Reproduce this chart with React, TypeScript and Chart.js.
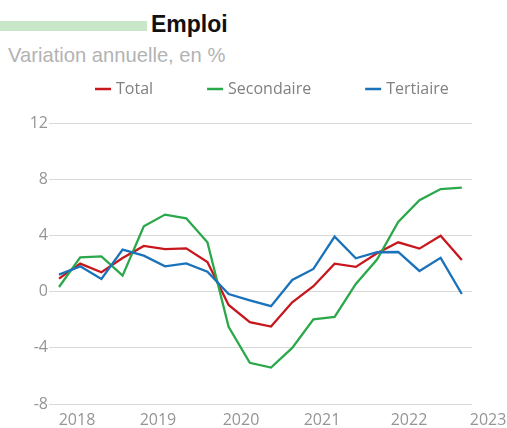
import React, { useEffect, useRef } from "react";
import { Chart, registerables } from "chart.js";

Chart.register(...registerables);

// ---- Data ----
const quarters = [
  "2017T4", "2018T1", "2018T2", "2018T3", "2018T4",
  "2019T1", "2019T2", "2019T3", "2019T4",
  "2020T1", "2020T2", "2020T3", "2020T4",
  "2021T1", "2021T2", "2021T3", "2021T4",
  "2022T1", "2022T2", "2022T3",
];
const total = [
  0.92, 1.99, 1.38, 2.39, 3.25, 3.03, 3.08, 2.11, -0.95, -2.18,
  -2.49, -0.76, 0.38, 1.99, 1.76, 2.73, 3.51, 3.06, 3.98, 2.25,
];
const secondaire = [
  0.33, 2.44, 2.51, 1.14, 4.65, 5.48, 5.22, 3.51, -2.51, -5.07,
  -5.41, -4.01, -1.97, -1.8, 0.55, 2.28, 4.95, 6.5, 7.3, 7.4,
];
const tertiaire = [
  1.21, 1.8, 0.9, 2.99, 2.56, 1.8, 2.01, 1.42, -0.17, -0.62,
  -1.04, 0.83, 1.61, 3.91, 2.37, 2.8, 2.82, 1.47, 2.4, -0.17,
];
const seriesLabels = ["Total", "Secondaire", "Tertiaire"];
const seriesColors = ["#c8161d", "#2ba84a", "#1a72bb"];
const yTicks = [-8, -4, 0, 4, 8, 12];
const yearLabels = ["2018", "2019", "2020", "2021", "2022", "2023"];
const yearLabelPositions = [2017.962, 2018.917, 2019.896, 2020.851, 2021.877, 2022.809];

function quarterToYear(q: string): number {
  const y = parseInt(q.slice(0, 4), 10);
  const n = parseInt(q.slice(5), 10);
  return y + (n - 1) * 0.25;
}

const legendPlugin = {
  id: "customLegend",
  afterDraw(chart: any) {
    const ctx = chart.ctx;
    ctx.save();
    ctx.font = "16px 'Open Sans'";
    ctx.textBaseline = "middle";
    ctx.textAlign = "left";
    let x = 95;
    const y = 89;
    chart.data.datasets.forEach((ds: any) => {
      ctx.strokeStyle = ds.borderColor;
      ctx.lineWidth = 2.5;
      ctx.beginPath();
      ctx.moveTo(x, y);
      ctx.lineTo(x + 16, y);
      ctx.stroke();
      ctx.fillStyle = "#808080";
      ctx.fillText(ds.label, x + 21, y);
      x += 21 + ctx.measureText(ds.label).width + 54;
    });
    ctx.restore();
  },
};

export default function App() {
  const canvasRef = useRef<HTMLCanvasElement | null>(null);

  useEffect(() => {
    if (!canvasRef.current) return;
    const xs = quarters.map(quarterToYear);
    const series = [total, secondaire, tertiaire];
    const chart = new Chart(canvasRef.current, {
      type: "line",
      data: {
        datasets: series.map((vals, k) => ({
          label: seriesLabels[k],
          data: vals.map((v, i) => ({ x: xs[i], y: v })),
          borderColor: seriesColors[k],
          backgroundColor: seriesColors[k],
          borderWidth: 2.3,
          pointRadius: 0,
          tension: 0,
          order: 3 - k,
        })),
      },
      options: {
        animation: false,
        responsive: false,
        devicePixelRatio: 1,
        layout: { padding: { top: 123, left: 8, right: 35, bottom: 0 } },
        plugins: {
          legend: { display: false },
          title: { display: false },
          tooltip: { enabled: false },
        },
        scales: {
          x: {
            type: "linear",
            min: 2017.632,
            max: 2022.62,
            grid: { display: false, drawTicks: false },
            border: { display: false },
            afterBuildTicks: (scale: any) => {
              scale.ticks = yearLabelPositions.map((v) => ({ value: v }));
            },
            afterFit: (scale: any) => {
              scale.paddingLeft = 0;
              scale.paddingRight = 0;
              scale.height = 24;
            },
            ticks: {
              autoSkip: false,
              maxRotation: 0,
              padding: 7,
              color: "#959595",
              font: { family: "'Open Sans'", size: 16 },
              callback: (_v: any, i: number) => yearLabels[i],
            },
          },
          y: {
            min: -8,
            max: 12,
            grid: { color: "#d9d9d9", lineWidth: 1, drawTicks: false },
            border: { display: false },
            afterBuildTicks: (scale: any) => {
              scale.ticks = yTicks.map((v) => ({ value: v }));
            },
            afterFit: (scale: any) => {
              scale.width = 41;
            },
            ticks: {
              padding: 1,
              color: "#959595",
              font: { family: "'Open Sans'", size: 16 },
              callback: (v: any) => String(v),
            },
          },
        },
      },
      plugins: [legendPlugin],
    });
    return () => chart.destroy();
  }, []);

  return (
    <div
      style={{
        position: "fixed",
        left: 0,
        top: 0,
        width: 507,
        height: 428,
        background: "#ffffff",
        overflow: "hidden",
      }}
    >
      <div
        style={{
          position: "absolute",
          left: 0,
          top: 21,
          width: 147,
          height: 10,
          background: "#c7e7c8",
        }}
      />
      <div
        style={{
          position: "absolute",
          left: 151,
          top: 12.5,
          fontFamily: "'Liberation Sans', Arial, sans-serif",
          fontWeight: 700,
          fontSize: 23,
          lineHeight: "23px",
          color: "#111111",
          whiteSpace: "nowrap",
        }}
      >
        Emploi
      </div>
      <div
        style={{
          position: "absolute",
          left: 8,
          top: 45,
          fontFamily: "'Liberation Sans', Arial, sans-serif",
          fontSize: 20.2,
          lineHeight: "20px",
          color: "#b3b3b3",
          whiteSpace: "nowrap",
        }}
      >
        Variation annuelle, en %
      </div>
      <canvas
        ref={canvasRef}
        width={507}
        height={428}
        style={{ position: "absolute", left: 0, top: 0, width: 507, height: 428 }}
      />
    </div>
  );
}
